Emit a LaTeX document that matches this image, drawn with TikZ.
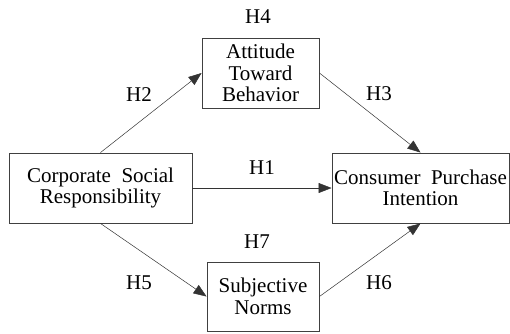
\documentclass[tikz,border=0pt]{standalone}
\usepackage{fontspec}
\setmainfont{Liberation Serif}
\usetikzlibrary{arrows.meta}
\begin{document}
\begin{tikzpicture}[x=1pt,y=-1pt,
  box/.style={draw=black!75, line width=0.9pt, inner sep=0pt, align=center,
    font=\fontsize{21}{21.5}\selectfont},
  conn/.style={draw=black!80, line width=0.5pt, -{Triangle[length=13pt,width=10pt]}},
  hlab/.style={font=\fontsize{21}{22}\selectfont, inner sep=0pt}]
\useasboundingbox (0,0) rectangle (510,333);
\node[box, minimum width=183pt, minimum height=70pt] (corp) at (100.5,188)
  {Corporate\hspace{0.5em}Social\\Responsibility};
\node[box, minimum width=177pt, minimum height=70pt] (cons) at (420.5,188)
  {Consumer\hspace{0.5em}Purchase\\Intention};
\node[box, minimum width=117pt, minimum height=70pt] (att) at (260.5,73)
  {Attitude\\Toward\\Behavior};
\node[box, minimum width=112pt, minimum height=69pt] (subj) at (263,296.5)
  {Subjective\\Norms};
\draw[conn] (corp.north) -- (att.west);
\draw[conn] (att.east) -- (cons.north);
\draw[conn] (corp.east) -- (cons.west);
\draw[conn] (corp.south) -- (subj.west);
\draw[conn] (subj.east) -- (cons.south);
\node[hlab] (h4) at (258,17) {H4};
\node[hlab] (h2) at (139,95) {H2};
\node[hlab] (h3) at (379,94) {H3};
\node[hlab] (h1) at (262,168) {H1};
\node[hlab] (h7) at (257,242) {H7};
\node[hlab] (h5) at (139,283) {H5};
\node[hlab] (h6) at (379,283) {H6};
\end{tikzpicture}
\end{document}
